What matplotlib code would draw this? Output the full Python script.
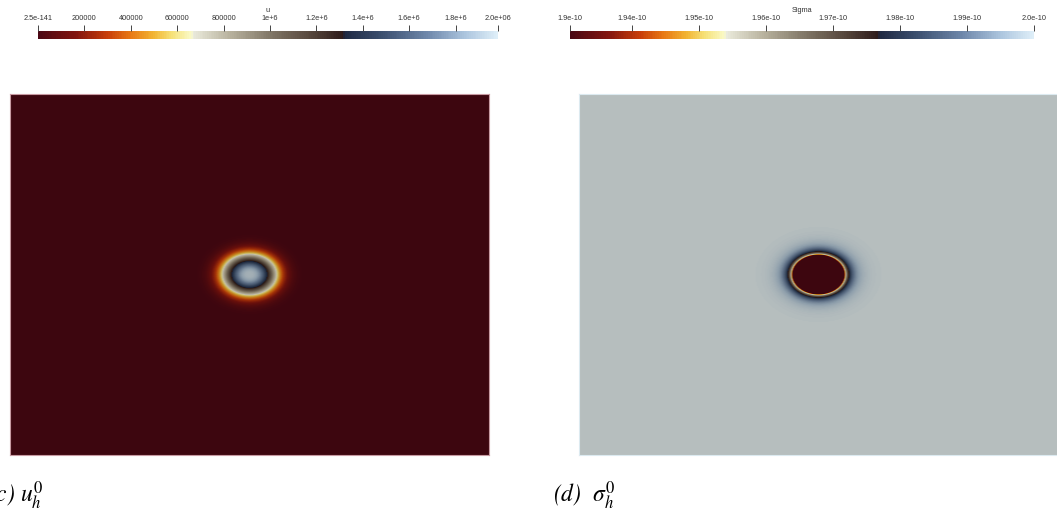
'''Initial state of u and Sigma on the unit square, drawn ParaView style'''
import numpy as np
import matplotlib
matplotlib.use('Agg')
import matplotlib.pyplot as plt
from matplotlib.colors import LinearSegmentedColormap, ListedColormap, Normalize
from matplotlib.cm import ScalarMappable

plt.rcParams['mathtext.fontset'] = 'stix'

# field u: bump centred in the domain
U_MIN = 0.0
U_MAX = 1.983e6
U_PEAK = 1.92e6
U_CENTER = (0.5, 0.5)
U_RADIUS = 0.0553
U_POWER = 2.5
U_TICKS = [0.0, 2e5, 4e5, 6e5, 8e5, 1e6, 1.2e6, 1.4e6, 1.6e6, 1.8e6, U_MAX]
U_LABELS = ['2.5e-141', '200000', '400000', '600000', '800000', '1e+6',
            '1.2e+6', '1.4e+6', '1.6e+6', '1.8e+6', '2.0e+06']

# field Sigma: low disk inside, high value outside
SIGMA_IN = 1.9307e-10
SIGMA_OUT = 2.0e-10
SIGMA_CENTER = (0.5, 0.5)
SIGMA_RADIUS = 0.054
SIGMA_WIDTH = 0.17
SIGMA_TICKS = [SIGMA_IN, 1.94e-10, 1.95e-10, 1.96e-10, 1.97e-10, 1.98e-10, 1.99e-10, SIGMA_OUT]
SIGMA_LABELS = ['1.9e-10', '1.94e-10', '1.95e-10', '1.96e-10', '1.97e-10',
                '1.98e-10', '1.99e-10', '2.0e-10']

N = 480
SHADE = np.array([0.82, 0.80, 0.77])


def make_cmap():
	stops = [(0.0, (75, 8, 20)), (0.08, (130, 20, 15)), (0.15, (200, 62, 10)),
	         (0.20, (232, 120, 20)), (0.25, (242, 180, 50)), (0.29, (246, 225, 120)),
	         (0.333, (250, 250, 200)), (0.334, (236, 236, 222)), (0.42, (182, 176, 156)),
	         (0.50, (132, 122, 106)), (0.60, (82, 66, 56)), (0.666, (45, 26, 26)),
	         (0.667, (30, 40, 66)), (0.75, (60, 80, 112)), (0.85, (112, 137, 172)),
	         (0.93, (172, 197, 222)), (1.0, (222, 238, 248))]
	return LinearSegmentedColormap.from_list('u_sigma', [(p, np.array(c) / 255.) for p, c in stops])


def shaded(cmap):
	rgb = cmap(np.linspace(0, 1, 256))[:, :3] * SHADE
	return ListedColormap(rgb)


def grid():
	x = np.linspace(0, 1, N)
	y = np.linspace(0, 1, int(N * 361 / 479))
	return np.meshgrid(x, y)


def u_field():
	X, Y = grid()
	r = np.hypot(X - U_CENTER[0], Y - U_CENTER[1]) / U_RADIUS
	return U_PEAK * np.exp(-r**U_POWER)


def sigma_field():
	X, Y = grid()
	r = np.hypot(X - SIGMA_CENTER[0], Y - SIGMA_CENTER[1]) / SIGMA_RADIUS
	d = np.clip(r - 1, 0, None) / SIGMA_WIDTH
	frac = np.where(r < 1, 0.0, 1 - np.exp(-d**0.8))
	return SIGMA_IN + (SIGMA_OUT - SIGMA_IN) * frac


def px_axes(fig, x0, y0, x1, y1):
	W, H = 1057., 519.
	return fig.add_axes([x0 / W, 1 - y1 / H, (x1 - x0) / W, (y1 - y0) / H])


def draw_panel(ax, field, vmin, vmax, cmap, edge):
	ax.imshow(field, cmap=shaded(cmap), norm=Normalize(vmin, vmax), extent=[0, 1, 0, 1],
	          origin='lower', aspect='auto', interpolation='bilinear')
	ax.set_xticks([])
	ax.set_yticks([])
	for s in ax.spines.values():
		s.set_color(edge)
		s.set_linewidth(0.8)


def draw_bar(fig, cax, vmin, vmax, cmap, ticks, labels, title, xc):
	sm = ScalarMappable(norm=Normalize(vmin, vmax), cmap=cmap)
	cb = fig.colorbar(sm, cax=cax, orientation='horizontal', ticklocation='top')
	cb.outline.set_visible(False)
	cb.set_ticks(ticks)
	cb.set_ticklabels(labels)
	cax.tick_params(axis='x', length=4, width=0.7, color='#444444', pad=2.5,
	                labelsize=5.3, labelcolor='#333333')
	for t in cax.get_xticklabels():
		t.set_family('Liberation Sans')
	fig.text(xc / 1057., 1 - 10 / 519., title, ha='center', va='center',
	         fontsize=5.3, color='#333333', family='Liberation Sans')


def main():
	cmap = make_cmap()
	fig = plt.figure(figsize=(10.57, 5.19), dpi=100)

	ax1 = px_axes(fig, 10, 94, 489, 455)
	draw_panel(ax1, u_field(), U_MIN, U_MAX, cmap, '#c89aa2')
	ax2 = px_axes(fig, 579, 94, 1058, 455)
	draw_panel(ax2, sigma_field(), SIGMA_IN, SIGMA_OUT, cmap, '#dceaf0')

	cax1 = px_axes(fig, 38, 31, 498, 39)
	draw_bar(fig, cax1, U_MIN, U_MAX, cmap, U_TICKS, U_LABELS, 'u', 268)
	cax2 = px_axes(fig, 570, 31, 1034, 39)
	draw_bar(fig, cax2, SIGMA_IN, SIGMA_OUT, cmap, SIGMA_TICKS, SIGMA_LABELS, 'Sigma', 802)

	cap = dict(fontsize=17, family='STIXGeneral', style='italic', va='baseline')
	fig.text(-12 / 1057., 1 - 503 / 519., r'(c) $u_h^0$', **cap)
	fig.text(553 / 1057., 1 - 503 / 519., r'(d)  $\sigma_h^0$', **cap)

	fig.savefig('out.png', dpi=100)
	plt.close()


if __name__ == '__main__':
	main()
